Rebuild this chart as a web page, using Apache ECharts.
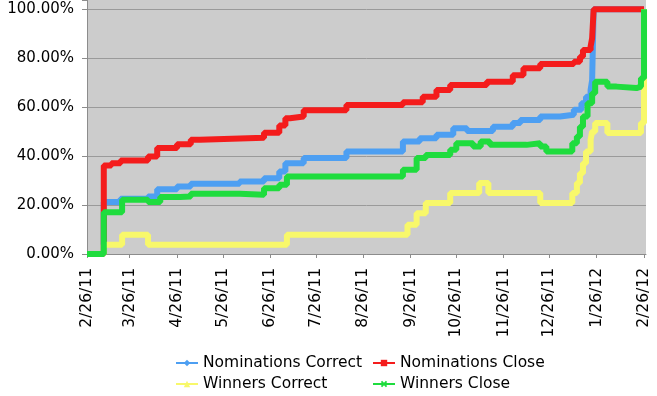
<!DOCTYPE html>
<html><head><meta charset="utf-8">
<script src="https://cdn.jsdelivr.net/npm/echarts@6/dist/echarts.min.js"></script>
<style>html,body{margin:0;padding:0;background:#fff}#c{width:657px;height:396px}</style>
</head><body><div id="c"></div>
<script>
const tickLabels = ['2/26/11','3/26/11','4/26/11','5/26/11','6/26/11','7/26/11','8/26/11','9/26/11','10/26/11','11/26/11','12/26/11','1/26/12','2/26/12'];
const yTicks = [0, 20, 40, 60, 80, 100];
const seriesNames = ['Nominations Correct', 'Nominations Close', 'Winners Correct', 'Winners Close'];

// change points: [date, percent] — value holds until next change
const nominationsCorrect = [
  ['2/26/11',0],['3/9/11',21.2],['3/20/11',22.6],['4/7/11',23.5],['4/13/11',26.5],['4/26/11',27.6],
  ['5/5/11',28.7],['6/6/11',29.6],['6/22/11',31],['7/2/11',33.7],['7/6/11',37.1],['7/18/11',39.2],
  ['8/15/11',41.9],['9/21/11',46],['10/2/11',47.3],['10/13/11',48.7],['10/24/11',51.4],['11/2/11',50.3],
  ['11/19/11',52],['12/2/11',53.5],['12/7/11',54.8],['12/20/11',56.2],['1/2/12',56.9],['1/11/12',58.9],
  ['1/16/12',61.6],['1/19/12',64.3],['1/22/12',67],['1/23/12',71],['1/24/12',100],['2/26/12',100]
];
const nominationsClose = [
  ['2/26/11',0],['3/9/11',36.2],['3/14/11',37.1],['3/20/11',38.2],['4/7/11',39.8],['4/13/11',43.3],
  ['4/26/11',44.9],['5/5/11',46.7],['5/11/11',47.5],['6/22/11',49.6],['7/2/11',52.5],['7/6/11',55.5],
  ['7/9/11',56.2],['7/18/11',58.7],['8/15/11',60.9],['9/21/11',62],['10/4/11',64.3],['10/13/11',67],
  ['10/22/11',69.1],['11/15/11',70.4],['12/2/11',73],['12/9/11',75.9],['12/20/11',77.6],['1/11/12',78.6],
  ['1/15/12',80.6],['1/17/12',83.4],['1/22/12',84.8],['1/23/12',88.2],['1/24/12',100],['2/26/12',100]
];
const winnersCorrect = [
  ['2/26/11',0],['3/9/11',3.8],['3/21/11',7.9],['4/7/11',3.8],['7/7/11',7.9],['9/24/11',12],
  ['9/30/11',16.7],['10/6/11',20.8],['10/22/11',24.9],['11/10/11',29],['11/16/11',24.9],['12/20/11',20.8],
  ['1/10/12',24.9],['1/13/12',29],['1/15/12',33],['1/17/12',37.1],['1/19/12',41.9],['1/22/12',46.7],
  ['1/23/12',50],['1/25/12',53.5],['2/2/12',49.4],['2/24/12',53.5],['2/26/12',100]
];
const winnersClose = [
  ['2/26/11',0],['3/9/11',17.1],['3/21/11',22.2],['4/7/11',21.2],['4/15/11',23.3],['4/28/11',23.5],
  ['5/5/11',24.6],['6/6/11',24.2],['6/22/11',26.9],['7/2/11',28.3],['7/7/11',31.7],['9/21/11',34.4],
  ['9/30/11',39.2],['10/6/11',40.5],['10/22/11',42.6],['10/26/11',45.3],['11/6/11',43.9],['11/11/11',46],
  ['11/17/11',44.6],['12/11/11',45.3],['12/20/11',43.9],['12/24/11',41.9],['1/10/12',45.3],['1/13/12',48],
  ['1/15/12',52],['1/17/12',56.2],['1/20/12',61.6],['1/23/12',65.7],['1/25/12',70.4],['2/2/12',68.4],
  ['2/8/12',67.8],['2/21/12',68.4],['2/24/12',71.8],['2/26/12',100]
];

function parseDate(s){ const p = s.split('/').map(Number); return new Date(2000+p[2], p[0]-1, p[1]).getTime(); }
function fmtDate(t){ const d = new Date(t); return (d.getMonth()+1)+'/'+d.getDate()+'/'+String(d.getFullYear()).slice(2); }
const tickValues = tickLabels.map(parseDate);
const DAY = 86400000;
const toData = arr => arr.map(p => [parseDate(p[0]), p[1]]);

const colors = ['#4d9ff2', '#f41c1c', '#f8f86a', '#1fdc3e'];
const symbols = ['diamond', 'rect', 'triangle', 'path://M2,0L5,3L8,0L10,2L7,5L10,8L8,10L5,7L2,10L0,8L3,5L0,2Z'];
const allData = [nominationsCorrect, nominationsClose, winnersCorrect, winnersClose];

const chart = echarts.init(document.getElementById('c'), null, {renderer: 'canvas'});
const legendPos = [[175, 355], [372, 355], [175, 376], [372, 376]];
chart.setOption({
  animation: false,
  backgroundColor: '#ffffff',
  textStyle: {fontFamily: 'DejaVu Sans'},
  grid: {left: 87, right: 11, top: 0, bottom: 142, show: true, backgroundColor: '#cccccc', borderWidth: 0},
  legend: seriesNames.map((n, i) => ({
    data: [n], left: legendPos[i][0], top: legendPos[i][1], itemWidth: 22, itemHeight: 8,
    padding: 0, lineStyle: {width: 2},
    textStyle: {fontFamily: 'DejaVu Sans', fontSize: 15.5, color: '#000'}
  })),
  xAxis: {
    type: 'value',
    min: tickValues[0],
    max: tickValues[tickValues.length-1] + 1.3*DAY,
    axisLine: {show: true, lineStyle: {color: '#8c8c8c', width: 1}},
    axisTick: {show: true, customValues: tickValues, length: 4, lineStyle: {color: '#8c8c8c'}},
    axisLabel: {customValues: tickValues, rotate: 90, margin: 14, fontSize: 15.5, color: '#000',
      fontFamily: 'DejaVu Sans', formatter: v => fmtDate(v)},
    splitLine: {show: false}
  },
  yAxis: {
    type: 'value', min: 0, max: 103.8, interval: 20,
    axisLine: {show: true, lineStyle: {color: '#8c8c8c', width: 1}},
    axisTick: {show: true, length: 5, lineStyle: {color: '#8c8c8c'}},
    axisLabel: {margin: 13, fontSize: 15, color: '#000', fontFamily: 'DejaVu Sans',
      formatter: v => yTicks.indexOf(Math.round(v*100)/100) >= 0 ? v.toFixed(2) + '%' : ''},
    splitLine: {show: true, showMaxLine: false, lineStyle: {color: '#9a9a9a', width: 1}}
  },
  series: allData.map((arr, i) => ({
    name: seriesNames[i], type: 'line', step: 'end', data: toData(arr),
    showSymbol: false, symbol: symbols[i], symbolSize: 7, clip: false,
    color: colors[i],
    lineStyle: {color: colors[i], width: 6},
    itemStyle: {color: colors[i]},
    z: 2 + i
  }))
});
</script></body></html>
